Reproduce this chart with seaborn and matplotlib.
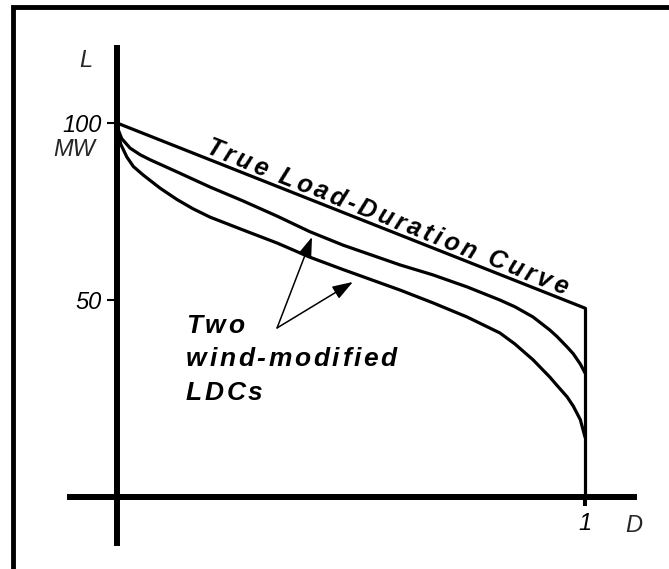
import numpy as np
import pandas as pd
import matplotlib
matplotlib.use("Agg")
import matplotlib.pyplot as plt
import matplotlib.transforms as mtransforms
from matplotlib.font_manager import FontProperties, findfont, get_font
from matplotlib.lines import Line2D
import seaborn as sns

# duration (fraction of time) and load (MW)
true_D = [0.0, 1.0]
true_L = [100.0, 47.7]

wind1_D = [0.0, 0.01, 0.028, 0.05, 0.071, 0.128, 0.199, 0.269, 0.342, 0.412, 0.483,
           0.605, 0.675, 0.748, 0.818, 0.85, 0.889, 0.925, 0.94, 0.962, 0.975, 0.99, 1.0]
wind1_L = [99.0, 95.6, 92.9, 91.0, 89.6, 86.2, 81.9, 78.0, 73.7, 69.3, 65.5,
           59.9, 57.1, 53.7, 50.0, 48.1, 45.2, 41.5, 39.7, 36.7, 34.8, 31.9, 29.4]

wind2_D = [0.0, 0.008, 0.021, 0.035, 0.056, 0.092, 0.128, 0.162, 0.199, 0.269, 0.342,
           0.412, 0.483, 0.605, 0.675, 0.748, 0.818, 0.85, 0.889, 0.925, 0.94, 0.962,
           0.975, 0.99, 1.0]
wind2_L = [99.0, 94.0, 90.4, 87.7, 85.3, 81.6, 78.4, 75.8, 73.4, 69.8, 66.1,
           62.1, 58.6, 52.8, 49.2, 45.2, 40.7, 37.6, 33.1, 28.2, 25.9, 22.6,
           20.0, 16.2, 11.3]

y_ticks = [50, 100]
y_ticklabels = ["50", "100"]
x_ticks = [1]
x_ticklabels = ["1"]

sns.set_theme(style="white")
plt.rcParams["font.family"] = ["Liberation Sans", "DejaVu Sans"]

fig = plt.figure(figsize=(6.69, 5.69), dpi=100)
ax = fig.add_axes([0, 0, 1, 1])
ax.set_facecolor("white")

# pixel layout of the original drawing: D 0..1 -> 117..585 px, 3.54 px per MW
ax.set_xlim(-117 / 468, 552 / 468)
ax.set_ylim(100 - 446 / 3.54, 100 + 123 / 3.54)
axis_level = -5.65

df = pd.concat([
    pd.DataFrame({"D": true_D, "L": true_L, "curve": "true"}),
    pd.DataFrame({"D": wind1_D, "L": wind1_L, "curve": "wind1"}),
    pd.DataFrame({"D": wind2_D, "L": wind2_L, "curve": "wind2"}),
])
sns.lineplot(data=df, x="D", y="L", units="curve", estimator=None, sort=False,
             color="black", lw=2.3, ax=ax, legend=False)
# vertical drop of the true LDC at D = 1
ax.plot([true_D[-1], true_D[-1]], [axis_level, true_L[-1]], color="black", lw=2.3)

# axes as thick crossing lines
for side in ["top", "right"]:
    ax.spines[side].set_visible(False)
ax.spines["left"].set_position(("data", 0))
ax.spines["left"].set_bounds(-18.64, 121.19)
ax.spines["bottom"].set_position(("data", axis_level))
ax.spines["bottom"].set_bounds(-0.1004, 1.1047)
for side in ["left", "bottom"]:
    ax.spines[side].set_linewidth(4.3)
    ax.spines[side].set_color("black")

ax.set_yticks(y_ticks)
ax.set_yticklabels(y_ticklabels, fontsize=17, fontstyle="italic")
ax.set_xticks(x_ticks)
ax.set_xticklabels(x_ticklabels, fontsize=17, fontstyle="italic")
ax.tick_params(axis="y", direction="out", length=7.2, width=1.5, pad=3.5,
               left=True, colors="black")
ax.tick_params(axis="x", direction="out", length=6.5, width=2.9, pad=4.0,
               bottom=True, colors="black")
ax.set_xlabel("")
ax.set_ylabel("")

ax.text(-0.066, 115.8, "L", fontsize=17, fontstyle="italic", ha="center", va="baseline")
ax.text(-0.047, 92.4, "MW", fontsize=17, fontstyle="italic", ha="right", va="center")
ax.text(1.105, -13.6, "D", fontsize=17, fontstyle="italic", ha="center", va="center")


def tracked_text(x, y, s, angle, track, prop, lift=0.0):
    # letter-spaced text, one glyph at a time (offsets in points)
    a = np.radians(angle)
    font = get_font(findfont(prop))
    font.set_size(prop.get_size_in_points(), 72)
    pos = 0.0
    for ch in s:
        dx = pos * np.cos(a) - lift * np.sin(a)
        dy = pos * np.sin(a) + lift * np.cos(a)
        tr = ax.transData + mtransforms.ScaledTranslation(dx / 72, dy / 72, fig.dpi_scale_trans)
        ax.text(x, y, ch, transform=tr, fontproperties=prop, rotation=angle,
                rotation_mode="anchor", ha="left", va="baseline", color="black")
        pos += font.load_char(ord(ch)).linearHoriAdvance / 65536 + track


bold_it = FontProperties(family="Liberation Sans", weight="bold", style="italic", size=18)
p0 = ax.transData.transform((true_D[0], true_L[0]))
p1 = ax.transData.transform((true_D[-1], true_L[-1]))
angle = np.degrees(np.arctan2(p1[1] - p0[1], p1[0] - p0[0]))
d0 = 0.184
tracked_text(d0, np.interp(d0, true_D, true_L), "True Load-Duration Curve",
             angle, 2.4, bold_it, lift=3.0)

block = FontProperties(family="Liberation Sans", weight="bold", style="italic", size=19)
for i, line in enumerate(["Two", "wind-modified", "LDCs"]):
    tracked_text(0.1474, 40.68, line, 0, 1.9, block, lift=-24.1 * i)

arrow = dict(arrowstyle="-|>,head_length=0.5,head_width=0.17", color="black",
             lw=1.1, mutation_scale=25, shrinkA=0, shrinkB=0)
ax.annotate("", xy=(0.4167, 67.8), xytext=(0.342, 42.1), arrowprops=arrow)
ax.annotate("", xy=(0.504, 55.1), xytext=(0.342, 42.1), arrowprops=arrow)

# frame of the page (top and left edges only are in view)
fig.add_artist(Line2D([12.5 / 669, 12.5 / 669, 1.0], [0.0, 1 - 7 / 569, 1 - 7 / 569],
                      transform=fig.transFigure, color="black", lw=3.5,
                      solid_joinstyle="miter"))

fig.savefig("out.png", dpi=100)
